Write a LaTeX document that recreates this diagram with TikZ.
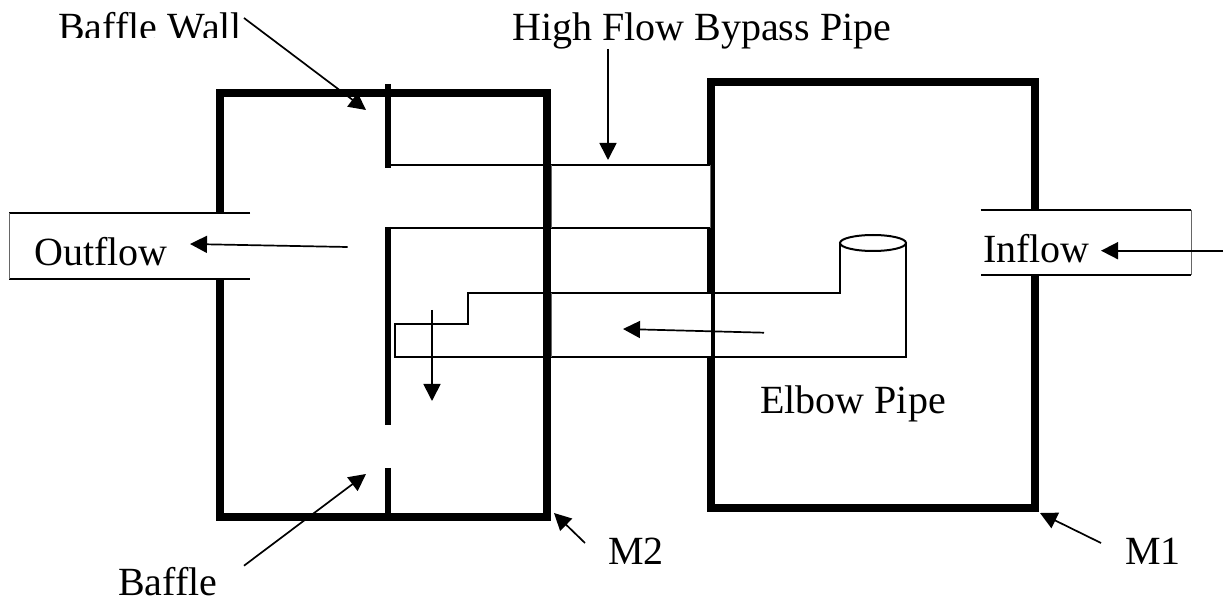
\documentclass[tikz,border=0pt]{standalone}
\usepackage{fontspec}
\setmainfont{Liberation Serif}
\usetikzlibrary{arrows.meta}
\tikzset{
  wall/.style={line width=8pt,line cap=butt,line join=miter,black},
  baffleline/.style={line width=6pt,line cap=butt,black},
  pipeline/.style={line width=2pt,black},
  thinedge/.style={line width=1pt,black!60},
  mask/.style={fill=white,draw=none},
  flowarrow/.style={line width=1.7pt,black,-{Triangle[length=17pt,width=17pt]}},
  label/.style={inner sep=0pt,font=\fontsize{40pt}{42pt}\selectfont,anchor=base west}
}
\begin{document}
\begin{tikzpicture}[x=1pt,y=-1pt]
\useasboundingbox (0,0) rectangle (1224,601);
% named points
\coordinate (m2a) at (220,213);
\coordinate (m2tl) at (220,93);
\coordinate (m2tr) at (547,93);
\coordinate (m2br) at (547,517);
\coordinate (m2bl) at (220,517);
\coordinate (m2b) at (220,280);
\coordinate (m1a) at (1035,210);
\coordinate (m1tr) at (1035,82);
\coordinate (m1tl) at (711,82);
\coordinate (m1bl) at (711,508);
\coordinate (m1br) at (1035,508);
\coordinate (m1b) at (1035,276);
% walls
\draw[wall] (m2a) -- (m2tl) -- (m2tr) -- (m2br) -- (m2bl) -- (m2b);
\draw[wall] (m1a) -- (m1tr) -- (m1tl) -- (m1bl) -- (m1br) -- (m1b);
% pipes notch the left face of M1
\fill[mask] (706,165.7) rectangle (710.5,227);
\fill[mask] (706,294.3) rectangle (710.5,355.7);
% baffle wall
\coordinate (b1a) at (388,84);
\coordinate (b1b) at (388,168);
\coordinate (b2a) at (388,227);
\coordinate (b2b) at (388,425);
\coordinate (b3a) at (388,468);
\coordinate (b3b) at (388,514);
\draw[baffleline] (b1a) -- (b1b);
\draw[baffleline] (b2a) -- (b2b);
\draw[baffleline] (b3a) -- (b3b);
% outflow pipe
\coordinate (oa) at (250,213.5);
\coordinate (ob) at (9,213.5);
\coordinate (oc) at (9,279.5);
\coordinate (od) at (250,279.5);
\draw[pipeline] (oa) -- (ob);
\draw[pipeline] (oc) -- (od);
\draw[thinedge] (ob) -- (oc);
% inflow pipe
\coordinate (ia) at (980.5,210);
\coordinate (ib) at (1191,210);
\coordinate (ic) at (1191,275.5);
\coordinate (id) at (980.5,275.5);
\draw[pipeline] (ia) -- (ib);
\draw[pipeline] (ic) -- (id);
\draw[thinedge] (ib) -- (ic);
% bypass pipe
\coordinate (pa) at (390,164.7);
\coordinate (pb) at (711,164.7);
\coordinate (pc) at (390,228);
\coordinate (pd) at (711,228);
\coordinate (pe) at (551.5,164.7);
\coordinate (pf) at (551.5,228);
\coordinate (pg) at (710.5,164.7);
\coordinate (ph) at (710.5,228);
\draw[pipeline] (pa) -- (pb);
\draw[pipeline] (pc) -- (pd);
\draw[thinedge] (pe) -- (pf);
\draw[thinedge] (pg) -- (ph);
% elbow pipe
\coordinate (e1) at (840,243);
\coordinate (e2) at (840,293.3);
\coordinate (e3) at (468,293.3);
\coordinate (e4) at (468,324);
\coordinate (e5) at (395,324);
\coordinate (e6) at (395,356.7);
\coordinate (e7) at (906,356.7);
\coordinate (e8) at (906,243);
\coordinate (e9) at (551.5,293.3);
\coordinate (e10) at (551.5,356.7);
\draw[pipeline] (e1) -- (e2) -- (e3) -- (e4) -- (e5) -- (e6) -- (e7) -- (e8);
\draw[thinedge] (e9) -- (e10);
\draw[pipeline] (873,243) ellipse [x radius=33,y radius=8];
% labels
\begin{scope}
\clip (40,0) rectangle (250,37.7);
\node[label] (lbw) at (58,41) {Baffle Wall};
\end{scope}
\node[label] (lhf) at (512,41) {High Flow Bypass Pipe};
\node[label] (lout) at (34,266) {Outflow};
\node[label] (lin) at (983,263) {Inflow};
\node[label] (lel) at (760,413.5) {Elbow Pipe};
\node[label] (lbf) at (118,595) {Baffle};
\node[label] (lm2) at (608,564) {M2};
\node[label] (lm1) at (1125,564) {M1};
% arrows
\coordinate (a1s) at (244,18); \coordinate (a1t) at (366,110);
\coordinate (a2s) at (608,49); \coordinate (a2t) at (608,160);
\coordinate (a3s) at (347.6,247); \coordinate (a3t) at (190,244);
\coordinate (a4s) at (432,310); \coordinate (a4t) at (432,401);
\coordinate (a5s) at (764,332.7); \coordinate (a5t) at (623,329);
\coordinate (a6s) at (1223,250.7); \coordinate (a6t) at (1101,250.7);
\coordinate (a7s) at (1101,543); \coordinate (a7t) at (1040,513);
\coordinate (a8s) at (585,543); \coordinate (a8t) at (554,513);
\coordinate (a9s) at (244,565.7); \coordinate (a9t) at (366,474);
\foreach \n in {1,...,9} \draw[flowarrow] (a\n s) -- (a\n t);
\end{tikzpicture}
\end{document}
